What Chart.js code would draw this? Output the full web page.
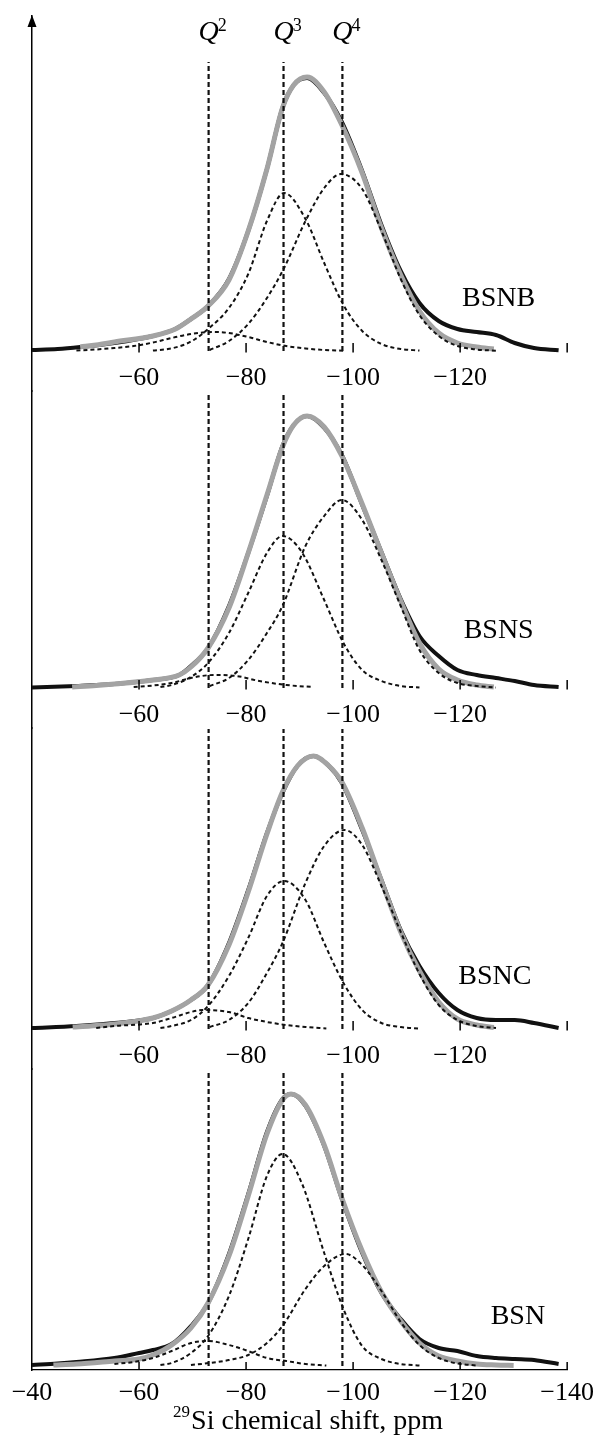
<!DOCTYPE html>
<html><head><meta charset="utf-8">
<script src="https://cdn.jsdelivr.net/npm/chart.js@4.4.1/dist/chart.umd.min.js"></script>
<style>html,body{margin:0;padding:0;background:#fff}canvas{display:block}</style>
</head><body>
<canvas id="c" width="602" height="1442"></canvas>
<script>
// ---------------- DATA ----------------
const samples = ['BSNB', 'BSNS', 'BSNC', 'BSN'];
const qShifts = [-73, -87, -98];
const qNames = ['2', '3', '4'];
const qLineTop = [289, 293, 300, 295];
const xTicks = [-40, -60, -80, -100, -120, -140];

// [chemical shift ppm, intensity a.u.]
const bsnbExp = [[-40,1],[-44.8,2],[-49,4],[-55.4,8],[-62.6,15],[-66.8,22],[-69.7,32],[-72.9,45],[-76.8,72],[-80.4,120],[-83.9,182],[-86.8,243],[-88.9,266],[-91.4,273],[-94.6,258],[-97.9,229],[-101.7,180],[-105.3,126],[-108.9,80],[-112.4,48],[-116,30],[-119.5,22],[-123.1,19],[-126.7,16],[-130.2,8],[-133.8,3],[-138.4,0.7]];
const bsnbFit = [[-49,4],[-52,6],[-55.4,9],[-62.6,15],[-66.8,22],[-69.7,32],[-72.9,45],[-76.8,71],[-80.4,120],[-83.9,182],[-86.8,243],[-88.9,266],[-91.4,274],[-94.6,259],[-97.9,226],[-101.7,178],[-105.3,123],[-108.9,76],[-112.4,40],[-116,18],[-119.5,8],[-123.1,4],[-126.3,2]];
const bsnbQ2 = [[-48.3,0.5],[-51.9,1.5],[-55.4,3],[-59,5],[-62.6,8.5],[-66.1,13],[-69.7,17],[-73.9,19],[-76.8,18],[-80.4,14],[-83.9,9],[-87.5,5],[-91.1,2.5],[-94.6,1],[-98.2,0.3]];
const bsnbQ3 = [[-62.6,0.5],[-65.4,2],[-68.3,6],[-70.5,12],[-72.9,22],[-76.8,43],[-80.4,77],[-83.9,130],[-87.1,158],[-91.1,132],[-94.6,88],[-98.2,46],[-101.7,20],[-105.3,7],[-108.9,2],[-112.4,0.5]];
const bsnbQ4 = [[-73.2,1],[-76.8,10],[-80.4,27],[-83.9,53],[-87.1,83],[-91.1,130],[-94.6,163],[-97.7,177],[-101.7,162],[-105.3,120],[-108.9,72],[-112.4,36],[-116,15],[-119.5,5],[-123.1,1.5],[-126.7,0.3]];

const bsnsExp = [[-40,0.5],[-48.3,2],[-55.4,4],[-62.6,8],[-67.5,13],[-69.7,22],[-72.9,40],[-76.8,82],[-80.4,135],[-83.9,192],[-86.8,242],[-88.9,263],[-91.4,272],[-94.6,260],[-97.9,233],[-101.7,183],[-105.3,136],[-108.9,89],[-112.4,52],[-116,32],[-119.5,18],[-123.1,13],[-126.7,10],[-130.2,7],[-133.8,3],[-138.4,1]];
const bsnsFit = [[-47.5,1],[-52,2.5],[-55.4,4],[-62.6,8],[-67.5,13],[-69.7,21],[-72.9,40],[-76.8,80],[-80.4,135],[-83.9,193],[-86.8,241],[-88.9,263],[-91.4,272],[-94.6,261],[-97.9,232],[-101.7,184],[-105.3,135],[-108.9,87],[-112.4,45],[-116,19],[-119.5,8],[-123.1,3],[-126.3,1]];
const bsnsQ2 = [[-59,1],[-62.6,2.5],[-66.1,5],[-69.7,10],[-73.9,13],[-78.2,12],[-82.5,7],[-87.5,3],[-92.5,1]];
const bsnsQ3 = [[-64,1],[-66.1,3],[-69.7,11],[-72.9,25],[-76.8,55],[-80.4,95],[-83.9,135],[-86.8,152],[-90.4,136],[-94.6,88],[-98.2,45],[-101.7,18],[-105.3,7],[-108.9,2],[-112.4,0.5]];
const bsnsQ4 = [[-73.2,2],[-76.8,10],[-80.4,28],[-83.9,55],[-86.8,82],[-91.1,142],[-94.6,172],[-97.9,188],[-101.7,168],[-105.3,128],[-108.9,82],[-112.4,38],[-116,15],[-119.5,5],[-123.1,2],[-126.7,0.5]];

const bsncExp = [[-40,1],[-48.3,3],[-55.4,6],[-62.6,11],[-66.1,18],[-69.7,29],[-72.9,44],[-76.8,86],[-80.4,139],[-83.9,196],[-86.8,236],[-89.6,263],[-92.6,273],[-95.3,264],[-97.9,246],[-101.7,199],[-105.3,149],[-108.9,99],[-112.4,63],[-116,36],[-119.5,19],[-123.1,11],[-126.7,9],[-130.2,9],[-133.8,6],[-138.4,1]];
const bsncFit = [[-47.6,2],[-51,3],[-55.4,5],[-62.6,11],[-66.1,18],[-69.7,29],[-72.9,44],[-76.8,84],[-80.4,137],[-83.9,195],[-86.8,237],[-89.6,263],[-92.6,273],[-95.3,264],[-97.9,247],[-101.7,201],[-105.3,148],[-108.9,97],[-112.4,58],[-116,27],[-119.5,10],[-123.1,4],[-126.3,1.5]];
const bsncQ2 = [[-52,1],[-55.4,3],[-62.6,6],[-66.1,11],[-69.7,17],[-71.8,19],[-76.8,17],[-80.4,11],[-83.9,7],[-87.5,4],[-91.1,2],[-95,0.5]];
const bsncQ3 = [[-64,1],[-66.1,3],[-69.7,9],[-72.9,23],[-76.8,53],[-80.4,91],[-83.9,133],[-87.1,148],[-91.1,129],[-94.6,86],[-98.2,46],[-101.7,19],[-105.3,6],[-108.9,2],[-112.4,0.5]];
const bsncQ4 = [[-73.2,2],[-76.8,9],[-80.4,26],[-83.9,56],[-86.8,86],[-91.1,146],[-94.6,183],[-98.4,199],[-101.7,184],[-105.3,143],[-108.9,97],[-112.4,55],[-116,24],[-119.5,9],[-123.1,3],[-126.7,1]];

const bsnExp = [[-40,1],[-44.8,2.5],[-48.3,4],[-55.4,8],[-60,13],[-62.6,16],[-66.1,22],[-69.7,40],[-72.9,63],[-76.8,112],[-80.4,172],[-83.9,234],[-86.8,267],[-88.4,272],[-91.1,260],[-94.6,220],[-97.9,167],[-101.7,113],[-105.3,73],[-108.9,47],[-112.4,27],[-116,18],[-119.5,15],[-123.1,10],[-126.7,8],[-130.2,7],[-133.8,6],[-138.4,2]];
const bsnFit = [[-44,1],[-48.3,2],[-55.4,5],[-60,7],[-62.6,11],[-66.1,21],[-69.7,38],[-72.9,63],[-76.8,110],[-80.4,170],[-83.9,232],[-86.8,266],[-88.4,272],[-91.1,261],[-94.6,221],[-97.9,168],[-101.7,115],[-105.3,74],[-108.9,45],[-112.4,23],[-116,10],[-119.5,5],[-123.1,2],[-126.7,1],[-130,0.5]];
const bsnQ2 = [[-55.4,2],[-59,4],[-62.6,8],[-66.1,15],[-69.7,23],[-72.9,25],[-76.8,21],[-80.4,15],[-83.9,8],[-87.5,5],[-91.1,2],[-95,0.5]];
const bsnQ3 = [[-64,1],[-66.1,3],[-69.7,13],[-72.9,30],[-76.8,70],[-80.4,127],[-83.9,190],[-86.8,212],[-90.4,183],[-94.6,113],[-98.2,57],[-101.7,20],[-105.3,7],[-108.9,2],[-112.4,0.5]];
const bsnQ4 = [[-69.7,1],[-73.2,3],[-76.8,6],[-80.4,11],[-83.9,23],[-86.8,40],[-91.1,77],[-94.6,100],[-98.6,112],[-101.7,101],[-105.3,75],[-108.9,44],[-112.4,21],[-116,8],[-119.5,2.5],[-123.1,0.5]];

// ---------------- LAYOUT ----------------
const panelSeries = [
  {exp: bsnbExp, fit: bsnbFit, q: [bsnbQ2, bsnbQ3, bsnbQ4]},
  {exp: bsnsExp, fit: bsnsFit, q: [bsnsQ2, bsnsQ3, bsnsQ4]},
  {exp: bsncExp, fit: bsncFit, q: [bsncQ2, bsncQ3, bsncQ4]},
  {exp: bsnExp,  fit: bsnFit,  q: [bsnQ2, bsnQ3, bsnQ4]}
];
// y range per panel (top to bottom) and its share of the plot height
const panelRange = [
  {min: -40, max: 335, weight: 375},
  {min: -40, max: 297, weight: 337},
  {min: -40, max: 301, weight: 341},
  {min: -4,  max: 297, weight: 301}
];
const labelPos = [[-127.2, 52], [-127.2, 57], [-126.5, 52], [-130.8, 49]];

const SERIF = '"Liberation Serif", "Times New Roman", serif';
const fmt = v => (v < 0 ? '\u2212' : '') + Math.abs(v);
const pts = arr => arr.map(([x, y]) => ({x, y}));
const axisId = i => 'y' + samples[i];

const datasets = [];
panelSeries.forEach((p, i) => {
  p.q.forEach((g, k) => datasets.push({
    label: samples[i] + ' Q' + qNames[k], data: pts(g), yAxisID: axisId(i), order: 0,
    borderColor: '#111', borderWidth: 2, borderDash: [4, 3], pointRadius: 0,
    cubicInterpolationMode: 'monotone', fill: false
  }));
  qShifts.forEach((q, k) => datasets.push({
    label: samples[i] + ' Q' + qNames[k] + ' position', data: [{x: q, y: 0}, {x: q, y: qLineTop[i]}],
    yAxisID: axisId(i), order: 1, borderColor: '#111', borderWidth: 2.2, borderDash: [5, 3],
    pointRadius: 0, tension: 0, fill: false
  }));
  datasets.push({
    label: samples[i] + ' fit', data: pts(p.fit), yAxisID: axisId(i), order: 2,
    borderColor: '#a3a3a3', borderWidth: 5, pointRadius: 0, cubicInterpolationMode: 'monotone', fill: false
  });
  datasets.push({
    label: samples[i] + ' experiment', data: pts(p.exp), yAxisID: axisId(i), order: 3,
    borderColor: '#111', borderWidth: 4, pointRadius: 0, cubicInterpolationMode: 'monotone', fill: false
  });
});

const scales = {
  x: {
    type: 'linear', position: 'bottom', reverse: true, min: -140, max: -40,
    afterBuildTicks: s => { s.ticks = xTicks.map(v => ({value: v})); },
    ticks: {callback: v => fmt(v), font: {family: SERIF, size: 26}, color: '#000', padding: 8, maxRotation: 0, autoSkip: false},
    grid: {drawOnChartArea: false, drawTicks: false},
    border: {display: true, color: '#000', width: 1.2},
    afterFit: s => { s.height = 72; }
  }
};
// stacked y axes: last defined is placed at the top
for (let i = samples.length - 1; i >= 0; i--) {
  scales[axisId(i)] = {
    type: 'linear', position: 'left', stack: 'panels', stackWeight: panelRange[i].weight,
    min: panelRange[i].min, max: panelRange[i].max, offset: false,
    ticks: {display: false}, grid: {drawOnChartArea: false, drawTicks: false},
    border: {display: true, color: '#000', width: 1.5},
    afterFit: s => { s.width = 0; }
  };
}

const decor = {
  id: 'decor',
  afterDraw(chart) {
    const ctx = chart.ctx, xs = chart.scales.x, ca = chart.chartArea;
    ctx.save();
    ctx.fillStyle = '#000'; ctx.strokeStyle = '#000';
    // arrow on the intensity axis
    ctx.beginPath();
    ctx.moveTo(ca.left, ca.top - 1);
    ctx.lineTo(ca.left - 4.5, ca.top + 11);
    ctx.lineTo(ca.left + 4.5, ca.top + 11);
    ctx.closePath(); ctx.fill();
    samples.forEach((name, i) => {
      const ys = chart.scales[axisId(i)];
      const last = i === samples.length - 1;
      const base = last ? xs.top : ys.getPixelForValue(0);
      ctx.lineWidth = 1.5;
      xTicks.forEach(v => {
        if (v === -40) return;
        const px = xs.getPixelForValue(v);
        ctx.beginPath(); ctx.moveTo(px, base + (last ? 0 : 1.5)); ctx.lineTo(px, base - 8); ctx.stroke();
        if (!last && v !== -140) {
          ctx.font = '26px ' + SERIF; ctx.textAlign = 'center'; ctx.textBaseline = 'middle';
          ctx.fillText(fmt(v), px, base + 27);
        }
      });
      ctx.font = '28px ' + SERIF; ctx.textAlign = 'center'; ctx.textBaseline = 'middle';
      ctx.fillText(name, xs.getPixelForValue(labelPos[i][0]), ys.getPixelForValue(labelPos[i][1]));
    });
    // Q labels
    qShifts.forEach((q, k) => {
      const px = xs.getPixelForValue(q);
      ctx.textBaseline = 'alphabetic';
      ctx.font = 'italic 28px ' + SERIF; ctx.textAlign = 'center';
      ctx.fillText('Q', px, 40);
      const w = ctx.measureText('Q').width;
      ctx.font = '18px ' + SERIF; ctx.textAlign = 'left';
      ctx.fillText(qNames[k], px + w / 2 - 1, 31);
    });
    // axis title
    ctx.textBaseline = 'alphabetic'; ctx.textAlign = 'left';
    ctx.font = '17px ' + SERIF; const w1 = ctx.measureText('29').width;
    ctx.font = '28px ' + SERIF; const w2 = ctx.measureText('Si chemical shift, ppm').width;
    const x0 = (ca.left + ca.right) / 2 + 8 - (w1 + w2) / 2;
    ctx.font = '17px ' + SERIF; ctx.fillText('29', x0, 1417);
    ctx.font = '28px ' + SERIF; ctx.fillText('Si chemical shift, ppm', x0 + w1 + 1, 1429);
    ctx.restore();
  }
};

new Chart(document.getElementById('c'), {
  type: 'line',
  data: {datasets},
  options: {
    responsive: false, animation: false, devicePixelRatio: 1,
    layout: {padding: {left: 32, right: 30, top: 16, bottom: 0}},
    plugins: {legend: {display: false}, tooltip: {enabled: false}},
    scales
  },
  plugins: [decor]
});
</script>
</body></html>
